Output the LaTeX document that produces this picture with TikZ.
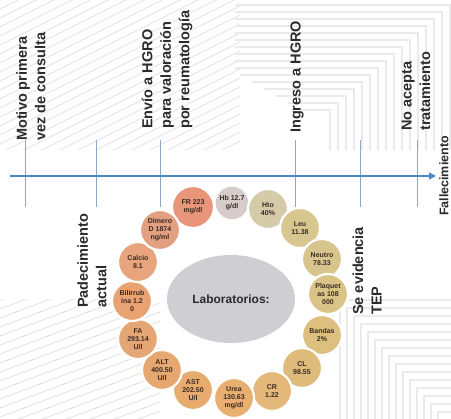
\documentclass[tikz,border=0pt]{standalone}
\usepackage{fontspec}
\setmainfont{Liberation Sans}
\usetikzlibrary{arrows.meta,shapes.geometric}
\definecolor{axisblue}{HTML}{4F86C6}
\definecolor{tickblue}{HTML}{8CA8CA}
\definecolor{labtext}{HTML}{2B2B2E}
\definecolor{cirtext}{HTML}{3A2A22}
\definecolor{bgline}{HTML}{EAEAEA}
\definecolor{ellgray}{HTML}{CFCFD3}
\definecolor{cFR}{HTML}{E8957A}
\definecolor{cDD}{HTML}{E2A080}
\definecolor{cCa}{HTML}{E8A47C}
\definecolor{cBi}{HTML}{E9A272}
\definecolor{cFA}{HTML}{E4A674}
\definecolor{cALT}{HTML}{E6A870}
\definecolor{cAST}{HTML}{E7AB6E}
\definecolor{cUr}{HTML}{E8AF70}
\definecolor{cCR}{HTML}{E3B878}
\definecolor{cCL}{HTML}{DEBB7A}
\definecolor{cBa}{HTML}{DDBF80}
\definecolor{cPl}{HTML}{DAC386}
\definecolor{cNe}{HTML}{D8C58E}
\definecolor{cLe}{HTML}{D7C78F}
\definecolor{cHt}{HTML}{D6CBA8}
\definecolor{cHb}{HTML}{D6CCCB}
\begin{document}
\begin{tikzpicture}[x=1pt,y=-1pt,
  evt/.style={rotate=90, anchor=west, align=left, inner sep=0pt,
    font=\fontsize{14.5}{18.5}\selectfont\bfseries, text=labtext},
  lab/.style={circle, minimum size=40pt, inner sep=0pt, draw=white,
    line width=2.2pt, align=center, font=\fontsize{7}{8}\selectfont\bfseries, text=cirtext},
  tickline/.style={draw=tickblue, line width=0.8pt},
  bgstripe/.style={draw=bgline, line width=1.3pt}]
\useasboundingbox (0,0) rectangle (451,419);
% background stripes
\begin{scope}
  \clip (0,0) rectangle (240,150);
  \foreach \c in {0,9,...,400} \draw[bgstripe] (0,\c) -- (250,\c-125);
\end{scope}
\begin{scope}
  \clip (0,300) rectangle (160,419);
  \foreach \c in {300,309,...,520} \draw[bgstripe] (0,\c) -- (160,\c-60);
\end{scope}
\begin{scope}
  \clip (235,0) rectangle (451,150);
  \foreach \i in {0,...,16} \draw[bgstripe] (300-12*\i,110-7*\i) -- (330+8*\i,110-7*\i) -- (330+8*\i,150);
\end{scope}
\begin{scope}
  \clip (330,300) rectangle (451,419);
  \foreach \i in {0,...,16} \draw[bgstripe] (451,300+8*\i) -- (340+7*\i,300+8*\i) -- (340+7*\i,419);
\end{scope}
% axis
\coordinate (axS) at (10,176);
\coordinate (axE) at (436,176);
\foreach \n/\x in {1/25,2/96,3/160,4/295,5/360,6/417}{
  \coordinate (t\n t) at (\x,140);
  \coordinate (t\n b) at (\x,207);
  \draw[tickline] (t\n t) -- (t\n b);
}
\draw[axisblue, line width=1.3pt, -{Triangle[length=7pt,width=7pt]}] (axS) -- (axE);
% event labels
\node[evt] (motivo) at (31,141) {Motivo primera\\vez de consulta};
\node[evt] (envio) at (167,129) {Envío a HGRO\\para valoración\\por reumatología};
\node[evt] (ingreso) at (297,133) {Ingreso a HGRO};
\node[evt] (noacepta) at (416,131) {No acepta\\tratamiento};
\node[evt] (padec) at (92,308) {Padecimiento\\actual};
\node[evt] (tep) at (367,315) {Se evidencia\\TEP};
\node[evt, anchor=center, font=\fontsize{12.5}{15}\selectfont\bfseries] (fallec) at (444,176) {Fallecimiento};
% labs
\node[ellipse, fill=ellgray, minimum width=128pt, minimum height=88pt, inner sep=0pt,
  font=\fontsize{12}{14}\selectfont\bfseries, text=labtext] (labs) at (231,299) {Laboratorios:};
\node[lab, fill=cFR, minimum size=42pt] (fr) at (193,207) {FR 223\\mg/dl};
\node[lab, fill=cHb, minimum size=35pt] (hb) at (232,203) {Hb 12.7\\g/dl};
\node[lab, fill=cHt] (hto) at (268,209) {Hto\\40\%};
\node[lab, fill=cLe] (leu) at (300,228) {Leu\\11.38};
\node[lab, fill=cNe] (neu) at (322,259) {Neutro\\78.33};
\node[lab, fill=cPl] (pla) at (328,294) {Plaquet\\as 108\\000};
\node[lab, fill=cBa] (ban) at (322,335) {Bandas\\2\%};
\node[lab, fill=cCL] (cl) at (302,368) {CL\\98.55};
\node[lab, fill=cCR] (cr) at (272,391) {CR\\1.22};
\node[lab, fill=cUr] (urea) at (234,398) {Urea\\130.63\\mg/dl};
\node[lab, fill=cAST] (ast) at (193,390) {AST\\202.50\\U/l};
\node[lab, fill=cALT] (alt) at (162,370) {ALT\\400.50\\U/l};
\node[lab, fill=cFA] (fa) at (138,339) {FA\\293.14\\U/l};
\node[lab, fill=cBi] (bili) at (132,301) {Bilirrub\\ina 1.2\\0};
\node[lab, fill=cCa] (calc) at (138,262) {Calcio\\8.1};
\node[lab, fill=cDD] (dd) at (160,230) {Dímero\\D 1874\\ng/ml};
\end{tikzpicture}
\end{document}
